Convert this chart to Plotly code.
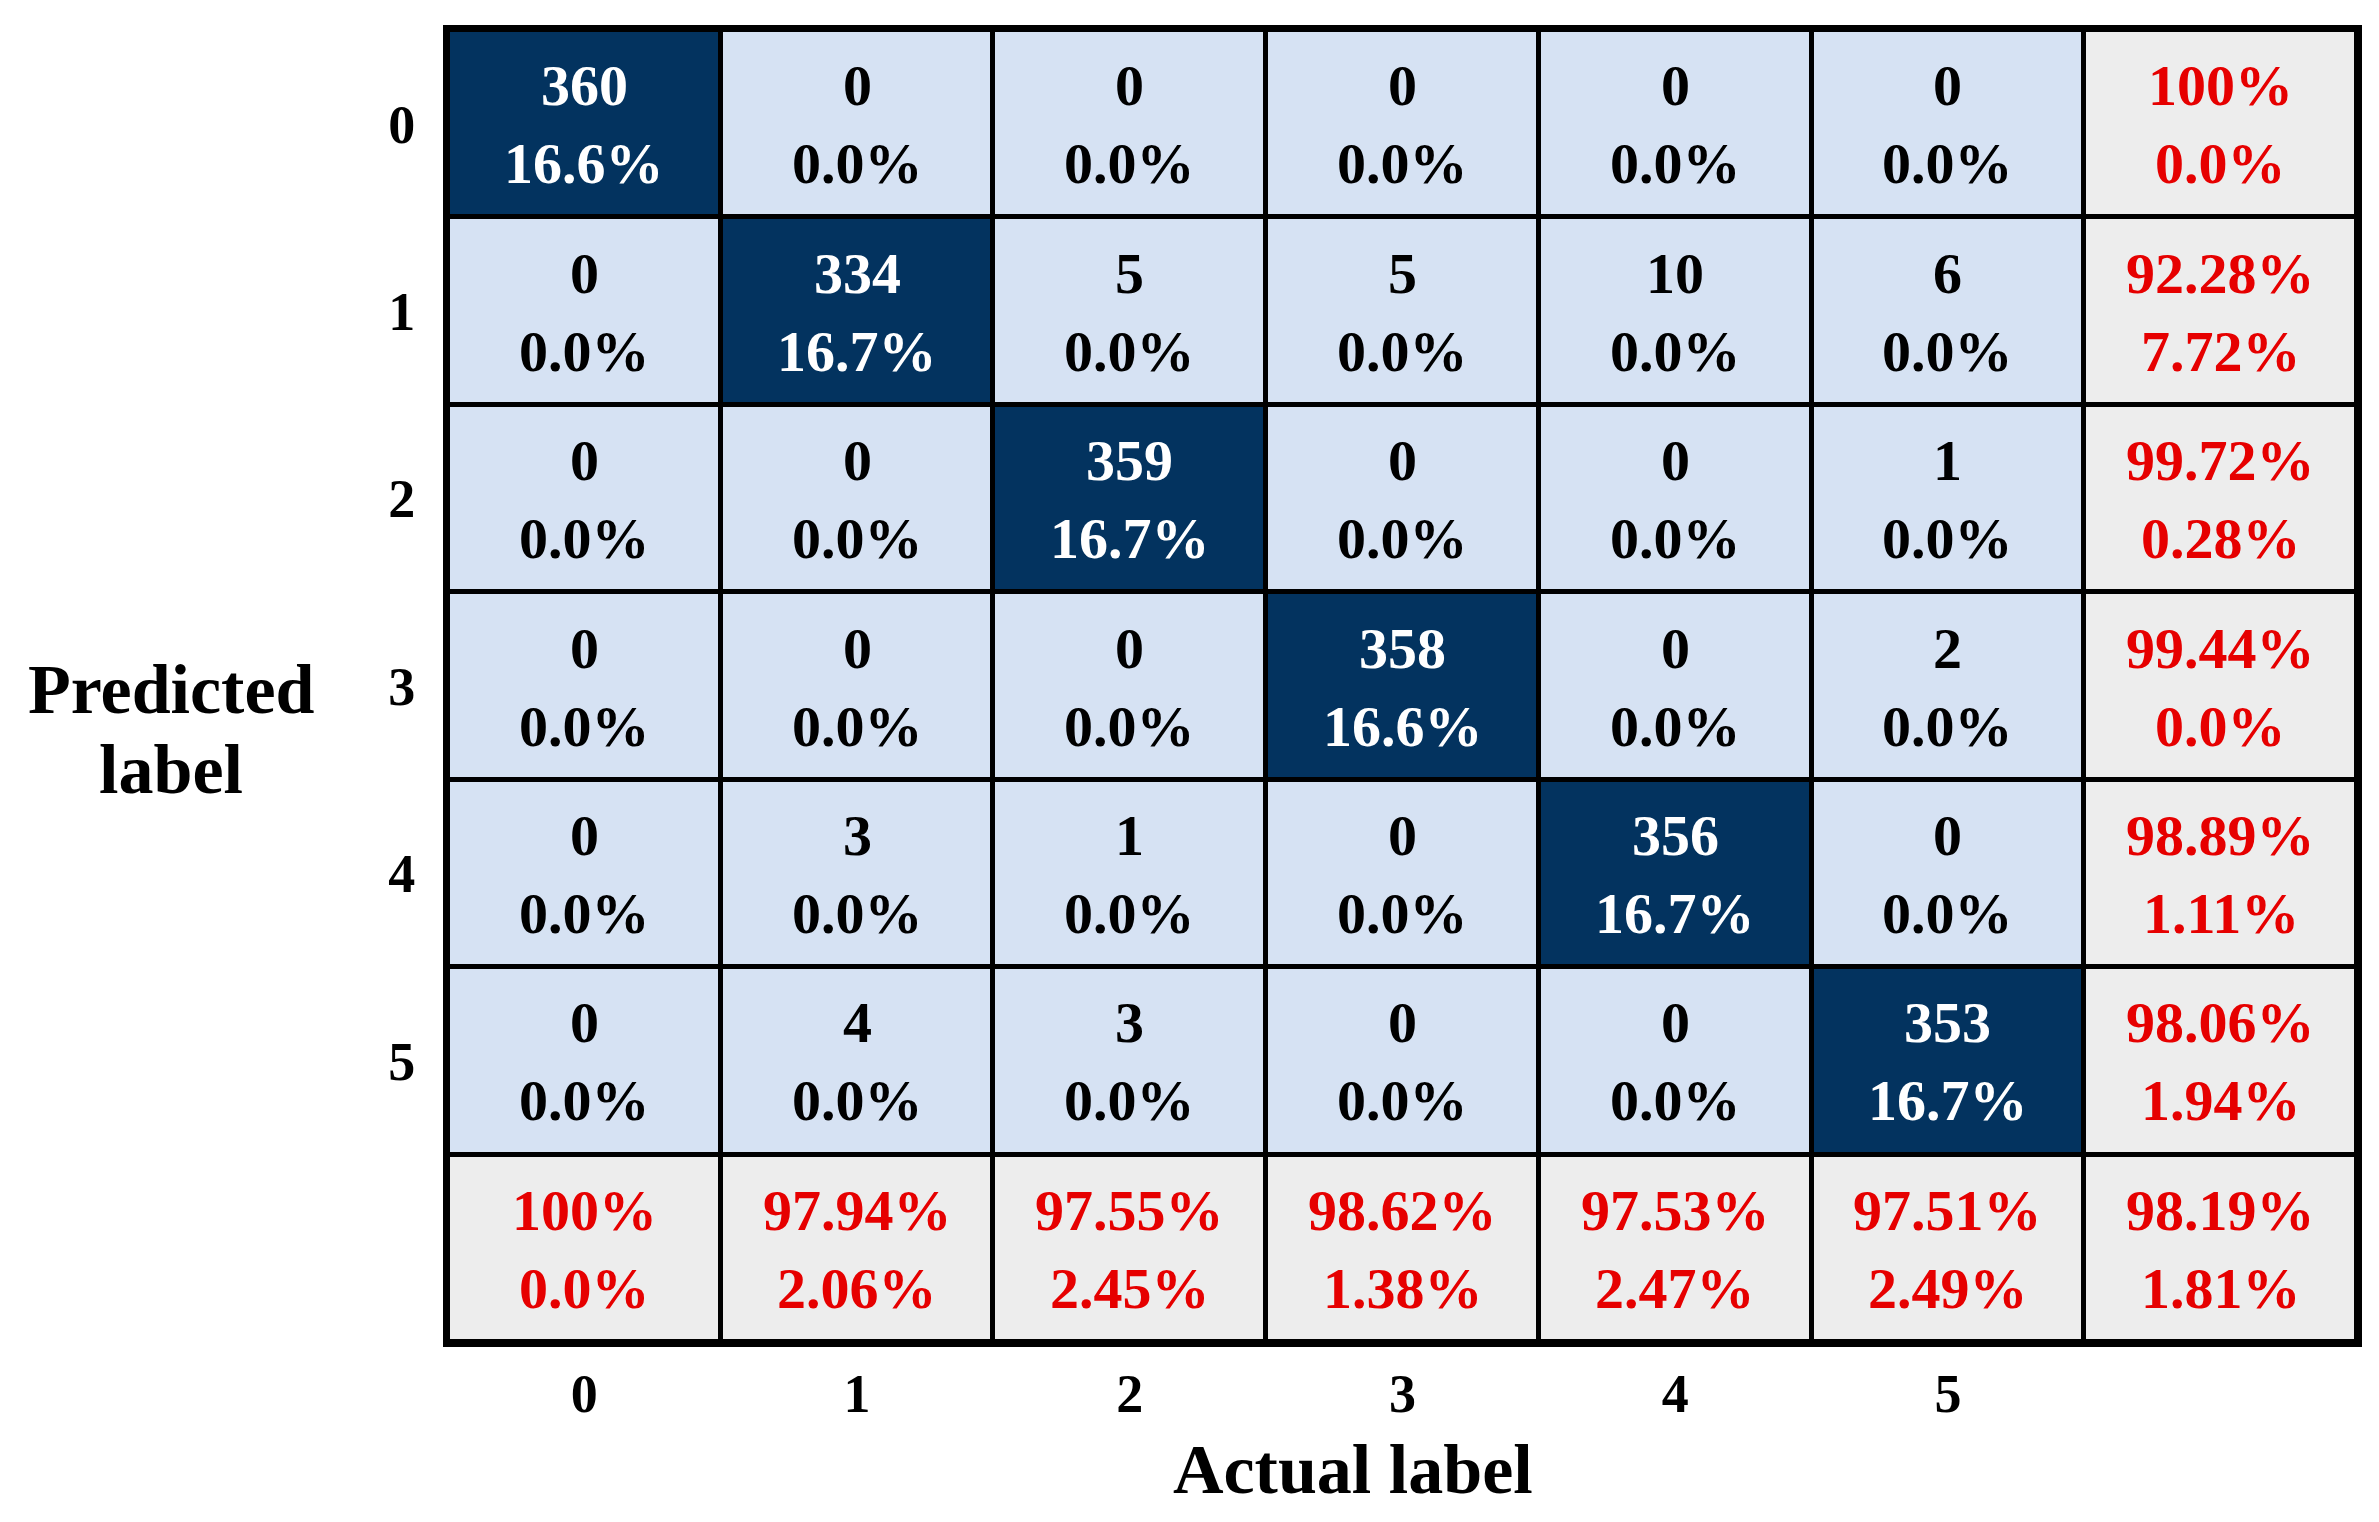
import plotly.graph_objects as go

classes = ["0", "1", "2", "3", "4", "5"]

# rows = predicted label, columns = actual label
counts = [
    [360, 0, 0, 0, 0, 0],
    [0, 334, 5, 5, 10, 6],
    [0, 0, 359, 0, 0, 1],
    [0, 0, 0, 358, 0, 2],
    [0, 3, 1, 0, 356, 0],
    [0, 4, 3, 0, 0, 353],
]
cell_pct = [
    ["16.6%", "0.0%", "0.0%", "0.0%", "0.0%", "0.0%"],
    ["0.0%", "16.7%", "0.0%", "0.0%", "0.0%", "0.0%"],
    ["0.0%", "0.0%", "16.7%", "0.0%", "0.0%", "0.0%"],
    ["0.0%", "0.0%", "0.0%", "16.6%", "0.0%", "0.0%"],
    ["0.0%", "0.0%", "0.0%", "0.0%", "16.7%", "0.0%"],
    ["0.0%", "0.0%", "0.0%", "0.0%", "0.0%", "16.7%"],
]
row_precision = ["100%", "92.28%", "99.72%", "99.44%", "98.89%", "98.06%"]
row_error = ["0.0%", "7.72%", "0.28%", "0.0%", "1.11%", "1.94%"]
col_recall = ["100%", "97.94%", "97.55%", "98.62%", "97.53%", "97.51%"]
col_error = ["0.0%", "2.06%", "2.45%", "1.38%", "2.47%", "2.49%"]
overall = ["98.19%", "1.81%"]

DARK = "#03335F"
LIGHT = "#D6E2F3"
GRAY = "#EDEDED"
RED = "#E60000"
FONT = "Liberation Serif"

n = len(classes)
z = []
for r in range(n + 1):
    row = []
    for c in range(n + 1):
        if r == n or c == n:
            row.append(2)
        elif r == c:
            row.append(1)
        else:
            row.append(0)
    z.append(row)

fig = go.Figure(go.Heatmap(
    z=z, x=list(range(n + 1)), y=list(range(n + 1)),
    zmin=0, zmax=2,
    colorscale=[[0, LIGHT], [0.333, LIGHT], [0.333, DARK], [0.666, DARK], [0.666, GRAY], [1, GRAY]],
    showscale=False, xgap=5, ygap=5, hoverinfo="skip",
))

ann = []
TOP_SHIFT = 38
BOT_SHIFT = -40
CELL_SIZE = 58

def add_cell(x, y, top, bottom, color):
    ann.append(dict(x=x, y=y, xref="x", yref="y", text=top, showarrow=False,
                    yshift=TOP_SHIFT, font=dict(family=FONT, size=CELL_SIZE, color=color, weight="bold")))
    ann.append(dict(x=x, y=y, xref="x", yref="y", text=bottom, showarrow=False,
                    yshift=BOT_SHIFT, font=dict(family=FONT, size=CELL_SIZE, color=color, weight="bold")))

for r in range(n):
    for c in range(n):
        add_cell(c, r, str(counts[r][c]), cell_pct[r][c], "white" if r == c else "black")
    add_cell(n, r, row_precision[r], row_error[r], RED)
for c in range(n):
    add_cell(c, n, col_recall[c], col_error[c], RED)
add_cell(n, n, overall[0], overall[1], RED)

TITLE_FONT = dict(family=FONT, size=70, color="black", weight="bold")
ann.append(dict(x=0.474, y=0, xref="paper", yref="paper", yanchor="middle", yshift=-127,
                text="Actual label", showarrow=False, font=TITLE_FONT))
ann.append(dict(x=-0.145, y=0.467, xref="paper", yref="paper", xanchor="center", yanchor="middle",
                yshift=40, text="Predicted", showarrow=False, font=TITLE_FONT))
ann.append(dict(x=-0.145, y=0.467, xref="paper", yref="paper", xanchor="center", yanchor="middle",
                yshift=-40, text="label", showarrow=False, font=TITLE_FONT))

fig.update_layout(
    width=2379, height=1522,
    margin=dict(l=440, r=30, t=22, b=188),
    paper_bgcolor="white", plot_bgcolor="black",
    annotations=ann,
    xaxis=dict(range=[-0.5, n + 0.5], tickvals=list(range(n)), ticktext=classes,
               showgrid=False, zeroline=False, showline=True, mirror=True, linecolor="black", linewidth=5,
               ticks="", ticklabelstandoff=0,
               tickfont=dict(family=FONT, size=54, color="black", weight="bold")),
    yaxis=dict(range=[n + 0.5, -0.5], tickvals=list(range(n)), ticktext=classes,
               showgrid=False, zeroline=False, showline=True, mirror=True, linecolor="black", linewidth=5,
               ticks="", ticklabelstandoff=17,
               tickfont=dict(family=FONT, size=54, color="black", weight="bold")),
)

fig.write_html("out.html")
